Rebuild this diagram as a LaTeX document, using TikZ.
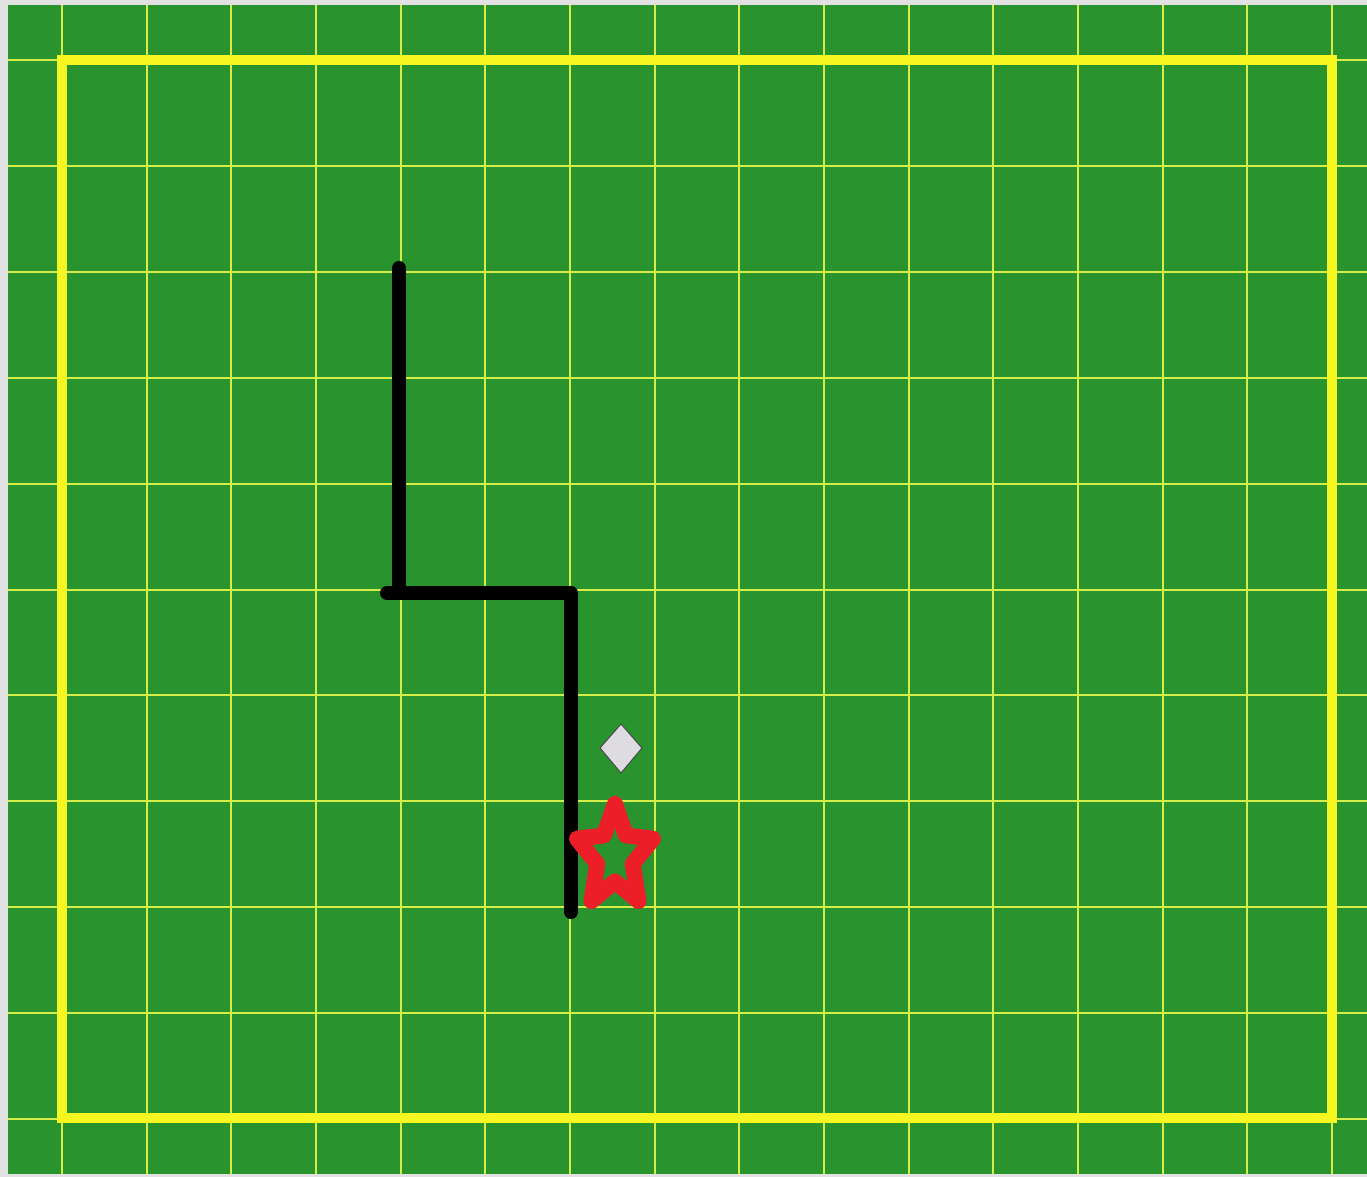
\documentclass[tikz,border=0pt]{standalone}
\usepackage{tikz}
\usetikzlibrary{arrows.meta}
\definecolor{fieldgreen}{RGB}{41,147,45}
\definecolor{gridyellow}{RGB}{214,236,72}
\definecolor{wallyellow}{RGB}{246,246,32}
\definecolor{pagegray}{RGB}{226,226,226}
\definecolor{starred}{RGB}{236,30,40}
\definecolor{gemgray}{RGB}{222,220,224}
\begin{document}
\begin{tikzpicture}[x=0.2mm,y=-0.2mm,
  gridline/.style={draw=gridyellow,line width=0.4mm},
  wallline/.style={draw=wallyellow,line width=1.9mm},
  trackline/.style={draw=black,line width=2.8mm,line cap=round,line join=round}]
\path[use as bounding box,fill=pagegray] (0,0) rectangle (1367,1177);
\fill[fieldgreen] (8,5) rectangle (1367,1174);
% grid
\draw[gridline] (62,5) -- (62,1174);
\draw[gridline] (147,5) -- (147,1174);
\draw[gridline] (231,5) -- (231,1174);
\draw[gridline] (316,5) -- (316,1174);
\draw[gridline] (401,5) -- (401,1174);
\draw[gridline] (485,5) -- (485,1174);
\draw[gridline] (570,5) -- (570,1174);
\draw[gridline] (655,5) -- (655,1174);
\draw[gridline] (739,5) -- (739,1174);
\draw[gridline] (824,5) -- (824,1174);
\draw[gridline] (909,5) -- (909,1174);
\draw[gridline] (993,5) -- (993,1174);
\draw[gridline] (1078,5) -- (1078,1174);
\draw[gridline] (1163,5) -- (1163,1174);
\draw[gridline] (1247,5) -- (1247,1174);
\draw[gridline] (1332,5) -- (1332,1174);
\draw[gridline] (8,60) -- (1367,60);
\draw[gridline] (8,166) -- (1367,166);
\draw[gridline] (8,272) -- (1367,272);
\draw[gridline] (8,378) -- (1367,378);
\draw[gridline] (8,484) -- (1367,484);
\draw[gridline] (8,590) -- (1367,590);
\draw[gridline] (8,695) -- (1367,695);
\draw[gridline] (8,801) -- (1367,801);
\draw[gridline] (8,907) -- (1367,907);
\draw[gridline] (8,1013) -- (1367,1013);
\draw[gridline] (8,1119) -- (1367,1119);
% border wall
\draw[wallline] (62,60) rectangle (1332,1118);
% track
\draw[trackline] (399,268) -- (399,591);
\draw[trackline] (387,593) -- (571,593) -- (571,912);
% gem
\draw[fill=gemgray,draw=black!70,line width=0.2mm] (621,724) -- (642,748) -- (621,773) -- (600,748) -- cycle;
% star
\draw[draw=starred,line width=3.2mm,line join=round] (615,804) -- (625.9,835.4) -- (653,838.7) -- (632.7,863.9) -- (638.5,901) -- (615,881.5) -- (591.5,901) -- (597.3,863.9) -- (577,838.7) -- (604.1,835.4) -- cycle;
\end{tikzpicture}
\end{document}
